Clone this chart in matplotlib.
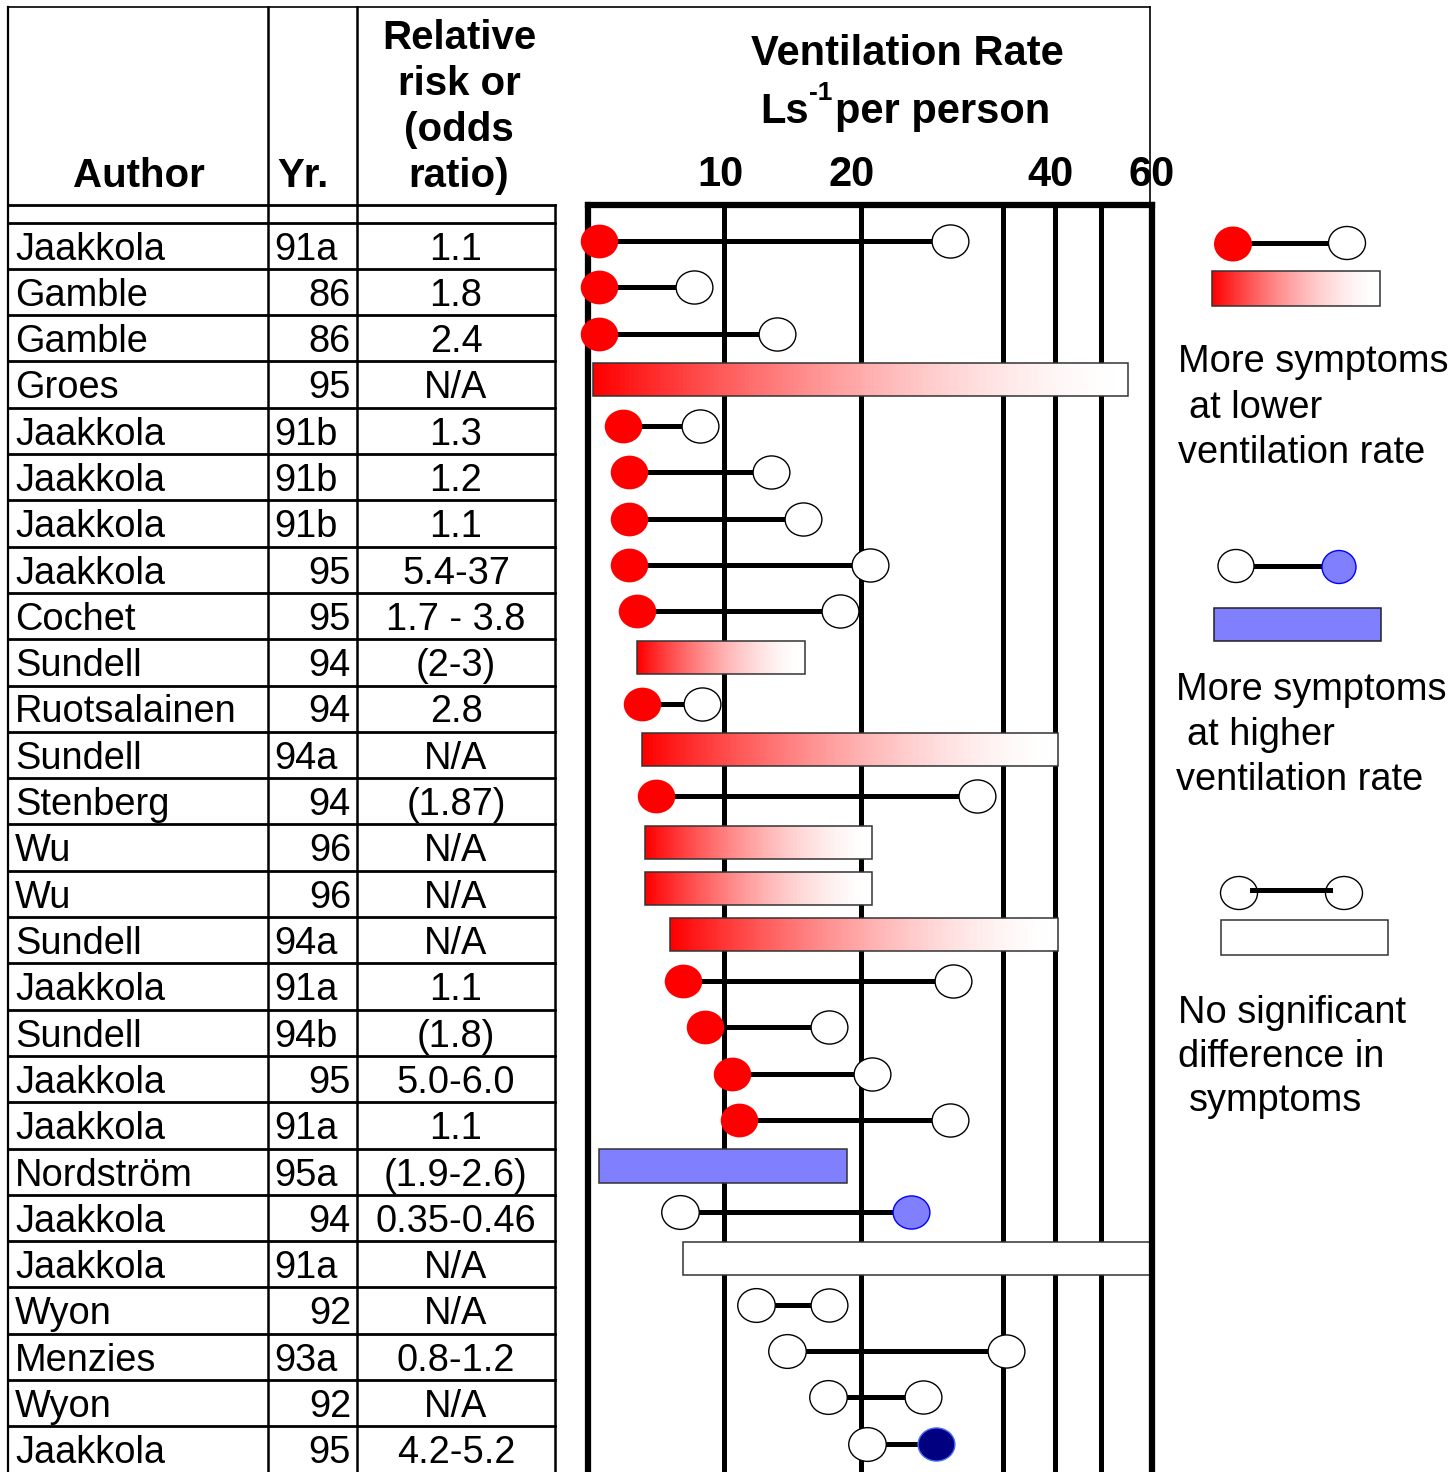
#### __imports__ ####

import numpy as np
import matplotlib
matplotlib.use("Agg")
import matplotlib.pyplot as plt
from matplotlib.colors import ListedColormap
from matplotlib.patches import Rectangle, Ellipse
from matplotlib.path import Path
from matplotlib.transforms import Affine2D, ScaledTranslation

plt.rcParams['font.family'] = ['Liberation Sans', 'DejaVu Sans']


#### __data__ ####

authors = ["Jaakkola", "Gamble", "Gamble", "Groes", "Jaakkola", "Jaakkola", "Jaakkola",
           "Jaakkola", "Cochet", "Sundell", "Ruotsalainen", "Sundell", "Stenberg", "Wu",
           "Wu", "Sundell", "Jaakkola", "Sundell", "Jaakkola", "Jaakkola", "Nordström",
           "Jaakkola", "Jaakkola", "Wyon", "Menzies", "Wyon", "Jaakkola"]
years = ["91a", "86", "86", "95", "91b", "91b", "91b", "95", "95", "94", "94", "94a", "94",
         "96", "96", "94a", "91a", "94b", "95", "91a", "95a", "94", "91a", "92", "93a", "92", "95"]
risks = ["1.1", "1.8", "2.4", "N/A", "1.3", "1.2", "1.1", "5.4-37", "1.7 - 3.8", "(2-3)",
         "2.8", "N/A", "(1.87)", "N/A", "N/A", "N/A", "1.1", "(1.8)", "5.0-6.0", "1.1",
         "(1.9-2.6)", "0.35-0.46", "N/A", "N/A", "0.8-1.2", "N/A", "4.2-5.2"]

# ventilation rates compared in each study (L/s per person)
vent_low = [5.4, 5.4, 5.4, 5.2, 6.3, 6.5, 6.5, 6.5, 6.8, 6.8, 7.0, 7.0, 7.5, 7.1,
            7.1, 8.0, 8.5, 9.3, 10.6, 11.1, 5.4, 8.4, 8.5, 12.3, 14.6, 17.6, 20.4]
vent_high = [26.3, 8.9, 13.9, 55.3, 9.1, 13.4, 15.8, 20.6, 18.5, 15.9, 9.2, 40.6, 28.2, 20.8,
             20.8, 40.6, 26.5, 17.7, 20.8, 26.3, 19.0, 23.5, 59.6, 17.7, 30.6, 24.4, 25.3]
# pair = two rates compared, range = a range of rates
kinds = ["pair", "pair", "pair", "range", "pair", "pair", "pair", "pair", "pair", "range",
         "pair", "range", "pair", "range", "range", "range", "pair", "pair", "pair", "pair",
         "range", "pair", "range", "pair", "pair", "pair", "pair"]
# where the symptoms were higher
effect = ["low"] * 20 + ["high", "high", "none", "none", "none", "none", "high_dark"]

tick_vals = [10, 20, 40, 60]
grid_vals = [10, 20, 30, 40, 50]

# the rate axis of the original is hand drawn, so map it piece by piece
scale_vals = [5, 10, 20, 30, 40, 50, 60]
scale_pos = [0, 136, 273, 415, 467, 513, 564]


def fwd(v):
    return np.interp(v, scale_vals, scale_pos)


def inv(p):
    return np.interp(p, scale_pos, scale_vals)


#### __colours__ ####

t = np.linspace(0, 1, 256)
w = 1 - (1 - t) ** 1.6
red_white = ListedColormap(np.column_stack([np.ones_like(w), w, w]))

RED = "#ff0000"
LBLUE = "#8080ff"
NAVY = "#000080"

ellipse = Path.unit_circle().transformed(Affine2D().scale(1.0, 0.9))


#### __figure__ ####

W, H = 1453, 1472
fig = plt.figure(figsize=(W / 100, H / 100), dpi=100)

# background axes in pixel units for the table and the key
bg = fig.add_axes([0, 0, 1, 1])
bg.set_xlim(0, W)
bg.set_ylim(H, 0)
bg.axis("off")

row_top = 222.5
row_h = 46.3
n = len(authors)

# frame and table lines
lc = "black"
bg.plot([8, 1150], [7, 7], color=lc, lw=1.2)
bg.plot([1150, 1150], [7, 205], color=lc, lw=1.2)
bg.plot([8, 8], [7, H], color=lc, lw=1.6)
for x in [268, 357]:
    bg.plot([x, x], [7, H], color=lc, lw=1.8)
bg.plot([555, 555], [205, H], color=lc, lw=1.8)
bg.plot([8, 555], [205, 205], color=lc, lw=2.0)
for k in range(n + 1):
    y = row_top + row_h * k
    bg.plot([8, 555], [y, y], color=lc, lw=2.0)

# header
hdr = dict(fontsize=29, fontweight="bold", ha="center", va="baseline")
bg.text(139, 187, "Author", **hdr)
bg.text(303, 187, "Yr.", **hdr)
for j, line in enumerate(["Relative", "risk or", "(odds", "ratio)"]):
    bg.text(459, 49 + 46 * j, line, **hdr)

bg.text(907, 65, "Ventilation Rate", fontsize=30, fontweight="bold", ha="center", va="baseline")
bg.text(760, 123, "Ls", fontsize=30, fontweight="bold", ha="left", va="baseline")
bg.text(809, 100, "-1", fontsize=19, fontweight="bold", ha="left", va="baseline")
bg.text(835, 123, "per person", fontsize=30, fontweight="bold", ha="left", va="baseline")

# table body
for i in range(n):
    yb = row_top + row_h * i + 37
    bg.text(15, yb, authors[i], fontsize=27.4, ha="left", va="baseline")
    if years[i].isdigit():
        bg.text(351, yb, years[i], fontsize=27.4, ha="right", va="baseline")
    else:
        bg.text(274, yb, years[i], fontsize=27.4, ha="left", va="baseline")
    bg.text(456, yb, risks[i], fontsize=27.4, ha="center", va="baseline")


#### __key on the right__ ####

def key_grad(x0, x1, y0, y1):
    xs = np.linspace(x0, x1, 121)
    bg.pcolormesh(xs, [y0, y1], np.linspace(0, 1, 120)[None, :], cmap=red_white,
                  vmin=0, vmax=1, shading="flat")
    bg.add_patch(Rectangle((x0, y0), x1 - x0, y1 - y0, fill=False, ec="#333333", lw=1.1))


bg.plot([1250, 1330], [243, 243], color="k", lw=3.6)
bg.add_patch(Ellipse((1233, 244), 38, 35, fc=RED, ec="none", zorder=3))
bg.add_patch(Ellipse((1347, 243), 37, 33, fc="white", ec="k", lw=1.0, zorder=3))
key_grad(1212, 1380, 271, 306)
for j, (x, line) in enumerate([(1178, "More symptoms"), (1189, "at lower"), (1178, "ventilation rate")]):
    bg.text(x, 372 + 45.5 * j, line, fontsize=27.4, ha="left", va="baseline")

bg.plot([1252, 1330], [566, 566], color="k", lw=3.6)
bg.add_patch(Ellipse((1236, 566), 36, 33, fc="white", ec="k", lw=1.0, zorder=3))
bg.add_patch(Ellipse((1339, 567), 34, 33, fc=LBLUE, ec="#0000ff", lw=1.0, zorder=3))
bg.add_patch(Rectangle((1214, 608), 167, 33, fc=LBLUE, ec="#222222", lw=1.1))
for j, (x, line) in enumerate([(1176, "More symptoms"), (1187, "at higher"), (1176, "ventilation rate")]):
    bg.text(x, 700 + 45 * j, line, fontsize=27.4, ha="left", va="baseline")

bg.plot([1252, 1330], [890, 890], color="k", lw=3.6, zorder=4)
bg.add_patch(Ellipse((1239, 893), 37, 33, fc="white", ec="k", lw=1.0, zorder=3))
bg.add_patch(Ellipse((1344, 893), 37, 33, fc="white", ec="k", lw=1.0, zorder=3))
bg.add_patch(Rectangle((1221, 920), 167, 35, fc="white", ec="#333333", lw=1.1))
for j, (x, line) in enumerate([(1178, "No significant"), (1178, "difference in"), (1189, "symptoms")]):
    bg.text(x, 1023 + 44 * j, line, fontsize=27.4, ha="left", va="baseline")


#### __ventilation rate plot__ ####

ax = fig.add_axes([588 / W, 0, (1152 - 588) / W, (H - 205) / H])
ax.patch.set_alpha(0)
ax.set_xscale("function", functions=(fwd, inv))
ax.set_xlim(5, 60)
# rows sit at 241 px + 46.25 px per row
ax.set_ylim((H - 241) / 46.25, (205 - 241) / 46.25)

for v in grid_vals:
    ax.axvline(v, color="k", lw=3.6, zorder=1)

bar_h = 0.72
for i in range(n):
    lo, hi = vent_low[i], vent_high[i]
    if kinds[i] == "range":
        if effect[i] == "low":
            edges = inv(np.linspace(fwd(lo), fwd(hi), 121))
            ax.pcolormesh(edges, [i - bar_h / 2, i + bar_h / 2], np.linspace(0, 1, 120)[None, :],
                          cmap=red_white, vmin=0, vmax=1, shading="flat", zorder=2)
            ax.barh(i, hi - lo, left=lo, height=bar_h, fill=False, ec="#333333", lw=1.1, zorder=2.5)
        else:
            fc = LBLUE if effect[i] == "high" else "white"
            ax.barh(i, hi - lo, left=lo, height=bar_h, color=fc, ec="#333333", lw=1.1, zorder=2.5)
        continue

    ax.plot([lo, hi], [i, i], color="k", lw=3.6, solid_capstyle="butt", zorder=2)
    lo_face, lo_edge = ("white", "k")
    hi_face, hi_edge = ("white", "k")
    if effect[i] == "low":
        lo_face, lo_edge = RED, RED
    elif effect[i] == "high":
        hi_face, hi_edge = LBLUE, "#0000ff"
    elif effect[i] == "high_dark":
        hi_face, hi_edge = NAVY, "#4a6cff"
    ax.plot(lo, i, marker=ellipse, ms=27, mfc=lo_face, mec=lo_edge,
            mew=0 if lo_face == RED else 1.0, zorder=6, clip_on=False)
    ax.plot(hi, i, marker=ellipse, ms=26.5, mfc=hi_face, mec=hi_edge, mew=1.0,
            zorder=6, clip_on=False)

for s in ["left", "top", "right"]:
    ax.spines[s].set_linewidth(4.5)
    ax.spines[s].set_zorder(5)
ax.spines["bottom"].set_visible(False)

ax.set_yticks([])
ax.set_xticks(tick_vals, labels=[str(v) for v in tick_vals])
ax.xaxis.set_minor_locator(matplotlib.ticker.NullLocator())
ax.tick_params(axis="x", top=True, bottom=False, labeltop=True, labelbottom=False,
               length=0, pad=7, labelsize=30)
shifts = [-4, -9, -5, 0]
for lbl, dx in zip(ax.get_xticklabels(), shifts):
    lbl.set_fontweight("bold")
    lbl.set_transform(lbl.get_transform() + ScaledTranslation(dx / 100, 0, fig.dpi_scale_trans))

plt.savefig("out.png", dpi=100)
